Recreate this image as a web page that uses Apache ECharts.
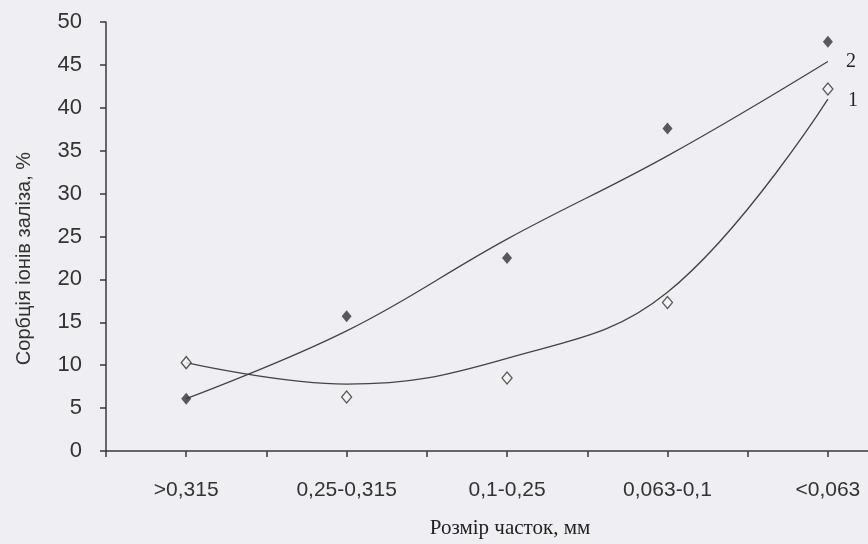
<!DOCTYPE html>
<html style="height: 100%">
<head>
    <meta charset="utf-8">
    <script src="https://cdn.jsdelivr.net/npm/echarts@6.0.0/dist/echarts.min.js"></script>
</head>
<body style="height: 100%; margin: 0; background: #efeef2">
    <div id="container" style="width: 868px; height: 544px"></div>
    <script type="text/javascript">
        var myChart = echarts.init(document.getElementById('container'));

        // розміри часток
        var categories = ['>0,315', '0,25-0,315', '0,1-0,25', '0,063-0,1', '<0,063'];
        // виміряні точки
        var points1 = [10.3, 6.3, 8.5, 17.3, 42.2];
        var points2 = [6.1, 15.7, 22.5, 37.6, 47.7];
        // лінії тренду
        var trend1 = [10.3, 7.8, 10.8, 18.5, 41.0];
        var trend2 = [6.1, 14.0, 24.7, 34.4, 45.4];
        var yTicks = [0, 5, 10, 15, 20, 25, 30, 35, 40, 45, 50];

        const ink = '#3a3a3c';
        const sans = "'Liberation Sans Narrow', 'Liberation Sans', sans-serif";
        const serif = "'Liberation Serif', 'DejaVu Serif', serif";

        // категорія i стоїть на позиції 2i+1 осі 0..9.5
        function pairs(arr) {
            return arr.map(function (v, i) { return [2 * i + 1, v]; });
        }

        option = {
            backgroundColor: '#efeef2',
            animation: false,
            grid: { left: 106, right: 0, top: 22, bottom: 93, outerBoundsMode: 'none' },
            xAxis: {
                type: 'value',
                min: 0, max: 9.5, interval: 1,
                name: 'Розмір часток, мм',
                nameLocation: 'middle',
                nameGap: 67,
                nameTextStyle: { fontFamily: serif, fontSize: 21, color: '#222', padding: [0, 0, 0, 46] },
                axisLine: { onZero: false, lineStyle: { color: ink, width: 1.5 } },
                axisTick: { length: 6, lineStyle: { color: ink, width: 1.5 } },
                splitLine: { show: false },
                axisLabel: {
                    margin: 29,
                    showMaxLabel: false,
                    fontFamily: sans, fontSize: 21, color: '#333',
                    formatter: function (v) {
                        return v % 2 === 1 ? categories[(v - 1) / 2] : '';
                    }
                }
            },
            yAxis: {
                type: 'value',
                min: yTicks[0], max: yTicks[yTicks.length - 1], interval: 5,
                name: 'Сорбція іонів заліза, %',
                nameLocation: 'middle',
                nameGap: 72,
                nameRotate: 90,
                nameTextStyle: { fontFamily: sans, fontSize: 20, color: '#333', padding: [0, 44, 0, 0] },
                axisLine: { show: true, lineStyle: { color: ink, width: 1.5 } },
                axisTick: { show: true, length: 6, lineStyle: { color: ink, width: 1.5 } },
                splitLine: { show: false },
                axisLabel: { margin: 24, fontFamily: sans, fontSize: 22, color: '#333' }
            },
            series: [
                {
                    name: 'trend1', type: 'line', smooth: 0.4,
                    symbol: 'none', z: 2,
                    lineStyle: { color: '#444', width: 1.3 },
                    endLabel: {
                        show: true, formatter: '1', distance: 20, offset: [0, 2],
                        fontFamily: serif, fontSize: 20, color: '#222'
                    },
                    data: pairs(trend1)
                },
                {
                    name: 'trend2', type: 'line', smooth: 0.4,
                    symbol: 'none', z: 2,
                    lineStyle: { color: '#444', width: 1.3 },
                    endLabel: {
                        show: true, formatter: '2', distance: 18, offset: [0, 0],
                        fontFamily: serif, fontSize: 20, color: '#222'
                    },
                    data: pairs(trend2)
                },
                {
                    name: '1', type: 'scatter', z: 3,
                    symbol: 'diamond', symbolSize: [10, 12],
                    itemStyle: { color: '#f4f4f6', borderColor: '#333', borderWidth: 1.3 },
                    data: pairs(points1)
                },
                {
                    name: '2', type: 'scatter', z: 3,
                    symbol: 'diamond', symbolSize: [10, 12],
                    itemStyle: { color: '#333336' },
                    data: pairs(points2)
                }
            ]
        };

        myChart.setOption(option);
    </script>
</body>
</html>
